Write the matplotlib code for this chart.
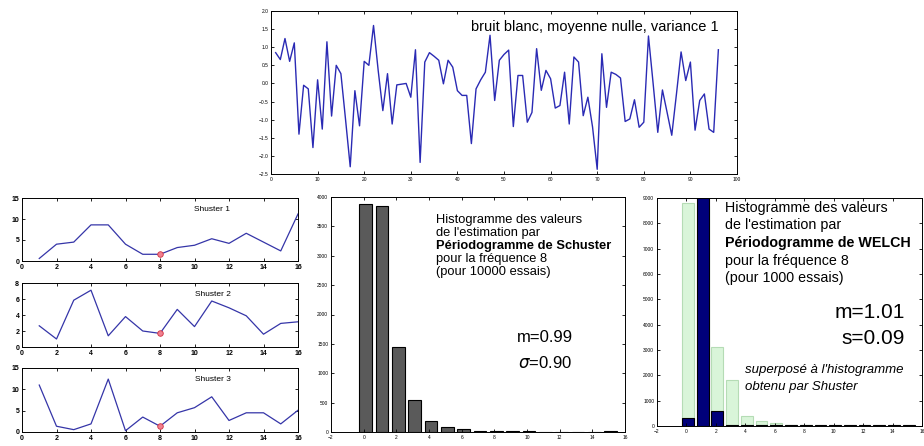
import numpy as np
import matplotlib.pyplot as plt

# white noise realisation (top)
noise = [0.85, 0.66, 1.24, 0.61, 1.12, -1.40, -0.05, -0.15, -1.77, 0.10,
         -1.26, 1.15, -0.90, 0.50, 0.27, -1.00, -2.30, -0.20, -1.17, 0.61,
         0.50, 1.60, 0.36, -0.75, 0.27, -1.12, -0.04, -0.02, 0.00, -0.38,
         0.93, -2.18, 0.59, 0.85, 0.75, 0.64, -0.01, 0.64, 0.45, -0.20,
         -0.33, -0.33, -1.66, -0.15, 0.10, 0.31, 1.33, -0.47, 0.64, 0.80,
         0.92, -1.19, 0.22, 0.22, -1.07, -0.80, 0.96, -0.19, 0.36, 0.13,
         -0.68, -0.61, 0.31, -1.12, 0.73, 0.59, -0.89, -0.38, -1.20, -2.37,
         0.82, -0.66, 0.31, 0.25, 0.15, -1.05, -0.98, -0.45, -1.21, -1.07,
         1.31, 0.00, -1.35, -0.18, -0.80, -1.43, -0.30, 0.87, 0.08, 0.59,
         -1.29, -0.47, -0.29, -1.26, -1.35, 0.93]

# three Schuster periodograms, frequencies 1..16
freqs = np.arange(1, 17)
shuster1 = [0.6, 4.0, 4.5, 8.6, 8.6, 4.0, 1.6, 1.6, 3.2, 3.75, 5.3, 4.2, 6.6, 4.5, 2.4, 11.2]
shuster2 = [2.65, 1.0, 5.85, 7.1, 1.4, 3.8, 2.0, 1.7, 4.7, 2.55, 5.75, 4.9, 3.9, 1.6, 2.95, 3.15]
shuster3 = [11.0, 1.35, 0.55, 1.9, 12.4, 0.3, 3.5, 1.35, 4.5, 5.7, 8.25, 2.7, 4.5, 4.5, 1.9, 5.1]
f_sel = 8

# histogram of Schuster estimates at f=8
bins = np.arange(16) + 0.12
schuster_counts = [3880, 3850, 1440, 550, 190, 80, 55, 25, 15, 12, 10, 5, 8, 5, 8, 10]

# Welch histogram over the (rescaled) Schuster one
welch_bins = np.arange(16) + 0.1
shuster_bg = [8800, 8700, 3100, 1800, 400, 180, 110, 40, 20, 10, 10, 10, 10, 10, 10, 10]
welch_counts = [300, 9500, 600, 30, 20, 20, 20, 20, 20, 20, 20, 20, 20, 20, 20, 20]

FONT = ['Liberation Sans', 'DejaVu Sans']
plt.rcParams['font.family'] = FONT

fig = plt.figure(figsize=(9.24, 4.46), dpi=100)
W, H = 924.0, 446.0


def box(l, t, r, b):
    return [l / W, 1 - b / H, (r - l) / W, (b - t) / H]


def style(ax, size):
    ax.tick_params(direction='in', length=2, width=0.6, labelsize=size,
                   top=True, right=True, pad=2)
    for s in ax.spines.values():
        s.set_linewidth(0.7)


# top: white noise
ax = fig.add_axes(box(271, 11, 737, 174))
ax.plot(np.arange(1, len(noise) + 1), noise, color='#2a2ab4', lw=1.0)
ax.set_xlim(0, 100)
ax.set_ylim(-2.5, 2)
ax.set_xticks(np.arange(0, 101, 10))
ax.set_yticks(np.arange(-2.5, 2.01, 0.5))
style(ax, 3.5)
fig.text(719 / W, 1 - 27 / H, 'bruit blanc, moyenne nulle, variance 1',
         ha='right', va='center', fontsize=10.5)

# left column: three periodograms
panels = [(shuster1, (22, 198, 298, 261), 15, [0, 5, 10, 15], 'Shuster 1'),
          (shuster2, (22, 283, 298, 347), 8, [0, 2, 4, 6, 8], 'Shuster 2'),
          (shuster3, (22, 368, 298, 432), 15, [0, 5, 10, 15], 'Shuster 3')]
for vals, pos, ymax, yt, title in panels:
    ax = fig.add_axes(box(*pos))
    ax.plot(freqs, vals, color='#3535a8', lw=0.9)
    ax.plot(f_sel, vals[f_sel - 1], 'o', ms=4, mfc='#f08090', mec='#d03040', mew=0.6)
    ax.set_xlim(0, 16)
    ax.set_ylim(0, ymax)
    ax.set_xticks(np.arange(0, 17, 2))
    ax.set_yticks(yt)
    style(ax, 5)
    for lab in ax.get_xticklabels() + ax.get_yticklabels():
        lab.set_fontweight('bold')
    ax.text(0.69, 0.82, title, transform=ax.transAxes, ha='center', va='center',
            fontsize=6)

# middle: Schuster histogram
ax = fig.add_axes(box(331, 197, 625, 432))
ax.bar(bins, schuster_counts, width=0.78, color='#5a5a5a', edgecolor='black', lw=0.8)
ax.set_xlim(-2, 16)
ax.set_ylim(0, 4000)
ax.set_xticks(np.arange(-2, 17, 2))
ax.set_yticks(np.arange(0, 4001, 500))
style(ax, 3.5)
mid_lines = [('Histogramme des valeurs', 'normal'),
             ("de l'estimation par", 'normal'),
             ('Périodogramme de Schuster', 'bold'),
             ('pour la fréquence 8', 'normal'),
             ('(pour 10000 essais)', 'normal')]
for i, (s, w) in enumerate(mid_lines):
    fig.text(436 / W, 1 - (220 + 13 * i) / H, s, fontsize=9.3, fontweight=w,
             ha='left', va='center')
fig.text(545 / W, 1 - 337 / H, 'm=0.99', fontsize=12, ha='center', va='center')
fig.text(545 / W, 1 - 363 / H, r'$\sigma$=0.90', fontsize=12, ha='center', va='center')

# right: Welch histogram
ax = fig.add_axes(box(657, 198, 922, 426))
ax.bar(welch_bins, shuster_bg, width=0.8, color='#d9f5d9', edgecolor='#b5dcb5', lw=0.8)
ax.bar(welch_bins, welch_counts, width=0.8, color='#00007a', edgecolor='black', lw=0.8)
ax.set_xlim(-2, 16)
ax.set_ylim(0, 9000)
ax.set_xticks(np.arange(-2, 17, 2))
ax.set_yticks(np.arange(0, 9001, 1000))
style(ax, 3.5)
right_lines = [('Histogramme des valeurs', 'normal'),
               ("de l'estimation par", 'normal'),
               ('Périodogramme de WELCH', 'bold'),
               ('pour la fréquence 8', 'normal'),
               ('(pour 1000 essais)', 'normal')]
for i, (s, w) in enumerate(right_lines):
    fig.text(725 / W, 1 - (208 + 17.5 * i) / H, s, fontsize=10.3, fontweight=w,
             ha='left', va='center')
fig.text(905 / W, 1 - 313 / H, 'm=1.01', fontsize=15, ha='right', va='center')
fig.text(905 / W, 1 - 338 / H, 's=0.09', fontsize=15, ha='right', va='center')
fig.text(745 / W, 1 - 370 / H, "superposé à l'histogramme", fontsize=9.5,
         style='italic', ha='left', va='center')
fig.text(745 / W, 1 - 387 / H, 'obtenu par Shuster', fontsize=9.5,
         style='italic', ha='left', va='center')

fig.savefig('out.png', dpi=100)
